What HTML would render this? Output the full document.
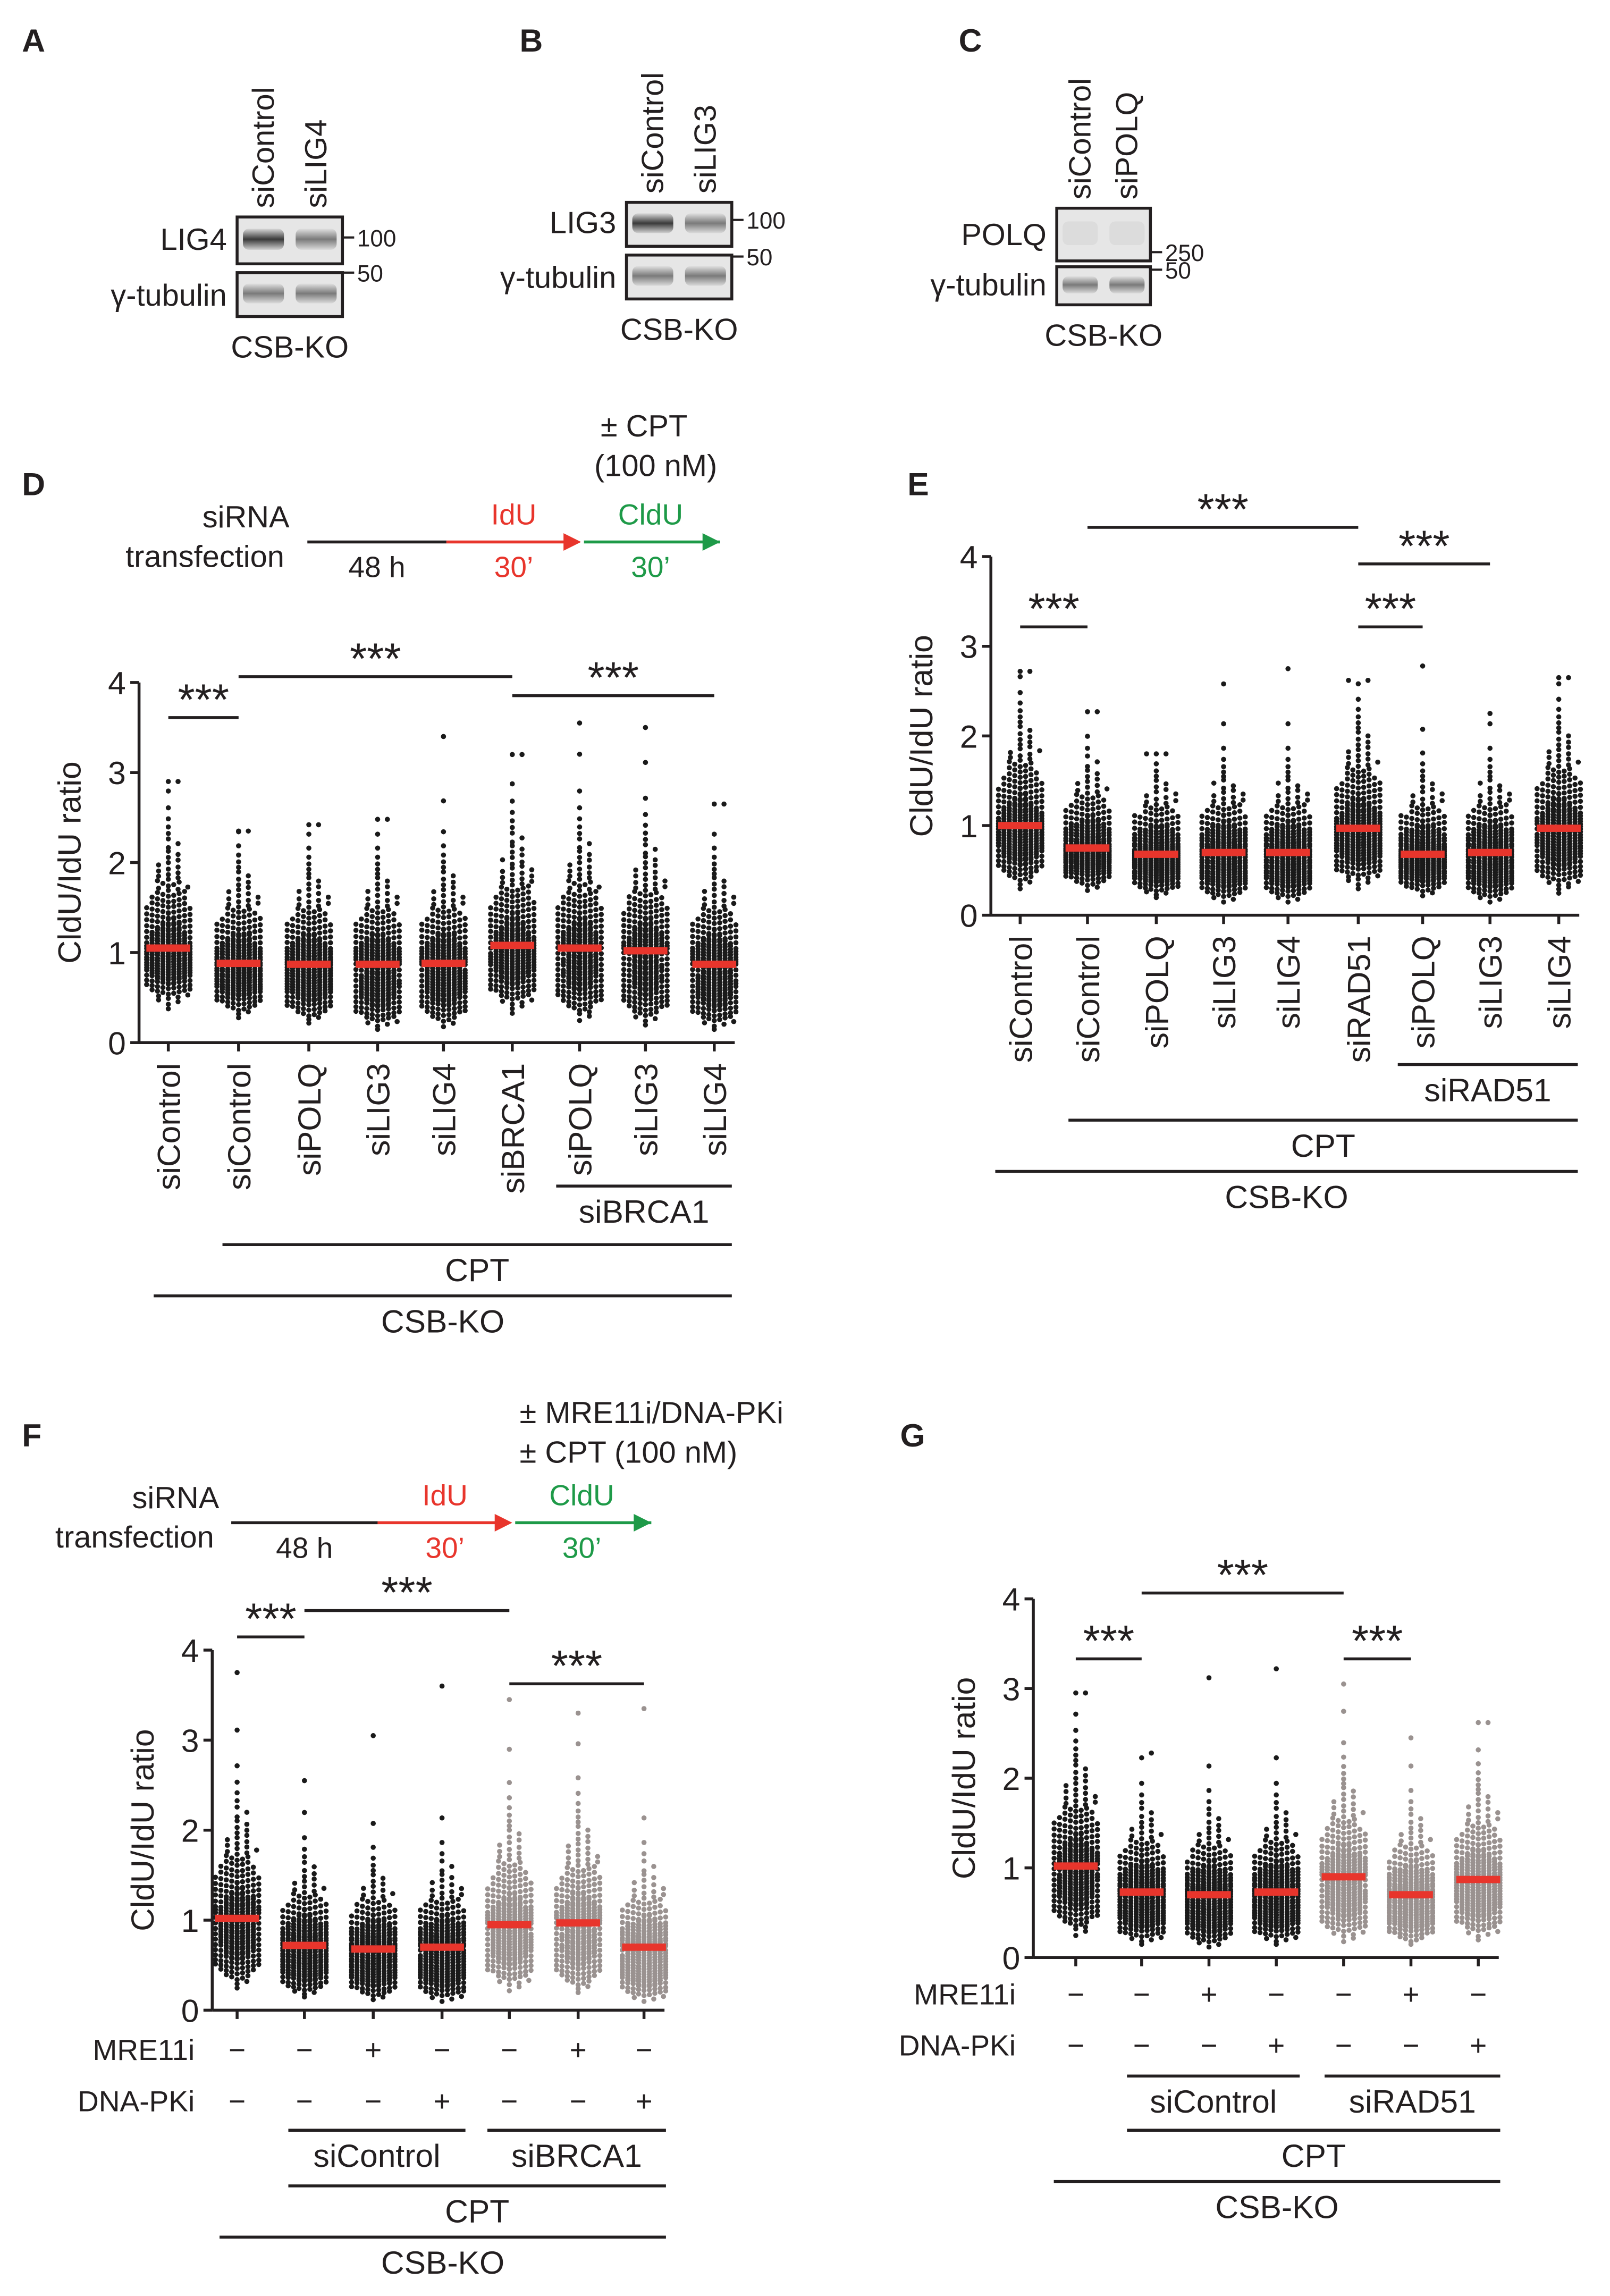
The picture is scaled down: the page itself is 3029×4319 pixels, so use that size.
<!DOCTYPE html>
<html><head><meta charset="utf-8"><style>
html,body{margin:0;padding:0;background:#fff}
svg{display:block}
text{font-family:"Liberation Sans",sans-serif;fill:#231f20}
</style></head><body>
<svg id="fig" width="3029" height="4319" viewBox="0 0 1100 1568" xmlns="http://www.w3.org/2000/svg">
<defs>
<linearGradient id="band" x1="0" y1="0" x2="0" y2="1"><stop offset="0" stop-color="#d8d8d8"/><stop offset="0.5" stop-color="#3a3a3a"/><stop offset="1" stop-color="#d0d0d0"/></linearGradient>
<linearGradient id="bandL" x1="0" y1="0" x2="0" y2="1"><stop offset="0" stop-color="#e0e0e0"/><stop offset="0.5" stop-color="#7a7a7a"/><stop offset="1" stop-color="#dadada"/></linearGradient>
</defs>
<g id="static" font-size="20"></g>
<g id="charts"></g>
</svg>
<script>
// ---------- data ----------
const dGroups=["siControl","siControl","siPOLQ","siLIG3","siLIG4","siBRCA1","siPOLQ","siLIG3","siLIG4"];
const dMedians=[1.05,0.88,0.87,0.87,0.88,1.08,1.05,1.02,0.87];
const dMax=[2.9,2.35,2.42,2.48,3.4,3.2,3.55,3.5,2.65];
const dMin=[0.38,0.28,0.22,0.15,0.18,0.33,0.25,0.2,0.15];
const eGroups=["siControl","siControl","siPOLQ","siLIG3","siLIG4","siRAD51","siPOLQ","siLIG3","siLIG4"];
const eMedians=[1.0,0.75,0.68,0.7,0.7,0.97,0.68,0.7,0.97];
const eMax=[2.72,2.27,1.8,2.58,2.75,2.62,2.78,2.25,2.65];
const eMin=[0.3,0.28,0.2,0.15,0.15,0.3,0.22,0.15,0.25];
const fMedians=[1.02,0.72,0.68,0.7,0.95,0.97,0.7];
const fMax=[3.75,2.55,3.05,3.6,3.45,3.3,3.35];
const fMin=[0.25,0.15,0.12,0.1,0.22,0.2,0.1];
const gMedians=[1.02,0.73,0.7,0.73,0.9,0.7,0.87];
const gMax=[2.95,2.28,3.12,3.22,3.05,2.45,2.62];
const gMin=[0.25,0.15,0.12,0.15,0.18,0.15,0.2];
const fMRE=["−","−","+","−","−","+","−"];
const fDNA=["−","−","−","+","−","−","+"];
const yTicks=[0,1,2,3,4];

const NS="http://www.w3.org/2000/svg";
function el(tag,attrs,parent,txt){const e=document.createElementNS(NS,tag);for(const k in attrs)e.setAttribute(k,attrs[k]);if(txt!==undefined)e.textContent=txt;parent.appendChild(e);return e;}
const S=document.getElementById('static');
const C=document.getElementById('charts');
function T(x,y,s,o={}){const a=Object.assign({x:x,y:y},o);const t=el('text',a,S,s);return t;}
function L(x1,y1,x2,y2,w=2,c="#231f20",p=S){return el('line',{x1:x1,y1:y1,x2:x2,y2:y2,stroke:c,'stroke-width':w},p);}

[["A",15,35],["B",355,35],["C",655,35],["D",15,338],["E",620,338],["F",15,988],["G",615,988]].forEach(a=>{const t=T(a[1],a[2],a[0],{'font-weight':'bold','font-size':22});});

function blot(id,x,w,ytop,h1,h2,gap,lanes,prot,markers,fill){
  const g=el('g',{},S);
  el('rect',{x:x,y:ytop,width:w,height:h1,fill:'#e6e6e6',stroke:'#231f20','stroke-width':2},g);
  el('rect',{x:x,y:ytop+h1+gap,width:w,height:h2,fill:'#e6e6e6',stroke:'#231f20','stroke-width':2},g);
  const lw=w/2;
  fill.forEach((f,i)=>{el('rect',{x:x+4+i*lw,y:ytop+h1*0.25,width:lw-8,height:h1*0.45,fill:f,rx:4},g);
    el('rect',{x:x+4+i*lw,y:ytop+h1+gap+h2*0.25,width:lw-8,height:h2*0.45,fill:'url(#bandL)',rx:4},g);});
  lanes.forEach((l,i)=>{el('text',{x:0,y:0,transform:`translate(${x+lw*i+lw/2+7},${ytop-6}) rotate(-90)`,'font-size':21},g,l);});
  el('text',{x:x-7,y:ytop+h1*0.7,'text-anchor':'end','font-size':21},g,prot);
  el('text',{x:x-7,y:ytop+h1+gap+h2*0.75,'text-anchor':'end','font-size':21},g,'γ-tubulin');
  markers.forEach(m=>{L(x+w,m[1],x+w+8,m[1],1.5,'#231f20',g);el('text',{x:x+w+10,y:m[1]+6,'font-size':16},g,m[0]);});
  el('text',{x:x+w/2,y:ytop+h1+gap+h2+28,'text-anchor':'middle','font-size':21},g,'CSB-KO');
}
blot('blot-a',162,72,148,32,30,6,['siControl','siLIG4'],'LIG4',[['100',162],['50',186]],['url(#band)','url(#bandL)']);
blot('blot-b',428,72,138,30,30,6,['siControl','siLIG3'],'LIG3',[['100',150],['50',175]],['url(#band)','url(#bandL)']);
blot('blot-c',722,64,142,36,26,4,['siControl','siPOLQ'],'POLQ',[['250',172],['50',184]],['#dcdcdc','#dcdcdc']);

function timeline(id,x0,x1,x2,x3,y,siX,siY){
  const g=el('g',{},S);
  el('text',{x:siX,y:siY,'text-anchor':'middle','font-size':21},g,'siRNA');
  el('text',{x:siX-28,y:siY+27,'text-anchor':'middle','font-size':21},g,'transfection');
  L(x0,y,x1,y,2,'#231f20',g);L(x1,y,x2-2,y,2,'#e8352c',g);
  el('polygon',{points:`${x2-12},${y-6} ${x2},${y} ${x2-12},${y+6}`,fill:'#e8352c'},g);
  L(x2+2,y,x3,y,2,'#1e9a48',g);
  el('polygon',{points:`${x3-12},${y-6} ${x3},${y} ${x3-12},${y+6}`,fill:'#1e9a48'},g);
  el('text',{x:(x0+x1)/2,y:y+24,'text-anchor':'middle','font-size':20},g,'48 h');
  el('text',{x:(x1+x2)/2,y:y-12,'text-anchor':'middle','font-size':20,style:'fill:#e8352c'},g,'IdU');
  el('text',{x:(x1+x2)/2,y:y+24,'text-anchor':'middle','font-size':20,style:'fill:#e8352c'},g,'30’');
  el('text',{x:(x2+x3)/2,y:y-12,'text-anchor':'middle','font-size':20,style:'fill:#1e9a48'},g,'CldU');
  el('text',{x:(x2+x3)/2,y:y+24,'text-anchor':'middle','font-size':20,style:'fill:#1e9a48'},g,'30’');
}
timeline('timeline-d',210,305,397,492,370,168,360);
T(440,298,'± CPT',{'text-anchor':'middle','font-size':21});
T(448,325,'(100 nM)',{'text-anchor':'middle','font-size':21});
timeline('timeline-f',158,258,350,445,1040,120,1030);
T(355,972,'± MRE11i/DNA-PKi',{'font-size':21});
T(355,999,'± CPT (100 nM)',{'font-size':21});

function qn(p){const a=[-39.6968,220.9461,-275.9285,138.3578,-30.6648,2.5066],b=[-54.4761,161.5859,-155.6990,66.8013,-13.2807],c=[-0.007785,-0.32240,-2.40076,-2.54973,4.37466,2.93816],d=[0.007785,0.32247,2.44513,3.75440];
if(p<0.02425){const q=Math.sqrt(-2*Math.log(p));return(((((c[0]*q+c[1])*q+c[2])*q+c[3])*q+c[4])*q+c[5])/((((d[0]*q+d[1])*q+d[2])*q+d[3])*q+1);}
if(p>1-0.02425){const q=Math.sqrt(-2*Math.log(1-p));return-(((((c[0]*q+c[1])*q+c[2])*q+c[3])*q+c[4])*q+c[5])/((((d[0]*q+d[1])*q+d[2])*q+d[3])*q+1);}
const q=p-0.5,r=q*q;return(((((a[0]*r+a[1])*r+a[2])*r+a[3])*r+a[4])*r+a[5])*q/(((((b[0]*r+b[1])*r+b[2])*r+b[3])*r+b[4])*r+1);}

function chart(cfg){
  const g=el('g',{},C);
  
  
  const y=v=>cfg.y0-(v/4)*(cfg.y0-cfg.y4);
  const ax=el('g',{},g);
  
  
  L(cfg.ax,cfg.y4,cfg.ax,cfg.y0,2,'#231f20',ax);
  L(cfg.ax,cfg.y0,cfg.xs[cfg.xs.length-1]+14,cfg.y0,2,'#231f20',ax);
  yTicks.forEach(t=>{L(cfg.ax-6,y(t),cfg.ax,y(t),2,'#231f20',ax);el('text',{x:cfg.ax-9,y:y(t)+8,'text-anchor':'end','font-size':22},ax,String(t));});
  cfg.xs.forEach(x=>L(x,cfg.y0,x,cfg.y0+6,2,'#231f20',ax));
  const tt=el('text',{x:0,y:0,transform:`translate(${cfg.ax-40},${(cfg.y0+cfg.y4)/2}) rotate(-90)`,'text-anchor':'middle','font-size':22},g,'CldU/IdU ratio');
  
  
  const n=300,r=1.75,sp=3.7,maxW=15;
  cfg.med.forEach((m,i)=>{
    const gg=el('g',{},g);
    
    
    const col=(cfg.gray&&cfg.gray.includes(i))?'#9a9290':'#1a1a1a';
    const lo=cfg.min[i],hi=cfg.max[i];
    const sLo=Math.log(m/lo)/2.9, sHi=0.38;
    const vals=[];
    for(let k=0;k<n;k++){const z=qn((k+0.5)/n);let v=z<0?m*Math.exp(sLo*z):m*Math.exp(sHi*z);v=Math.min(v,hi);vals.push(v);}
    vals.push(hi);
    const rows={};
    vals.forEach(v=>{const py=y(v);const key=Math.round(py/sp);(rows[key]=rows[key]||[]).push(py);});
    Object.keys(rows).forEach(k=>{const arr=rows[k];
      arr.forEach((py,j)=>{let slot=j%9;let off=(slot%2?1:-1)*Math.ceil(slot/2)*sp;
        if(arr.length<=4&&arr.length>1)off*=1.8;
        off=Math.max(-maxW,Math.min(maxW,off));
        el('circle',{cx:cfg.xs[i]+off,cy:py,r:r,fill:col},gg);});
    });
    const mb=el('rect',{x:cfg.xs[i]-15,y:y(m)-2.5,width:30,height:5,fill:'#e8352c'},g);
    
    
  });
  if(cfg.labels){cfg.labels.forEach((l,i)=>{const t=el('text',{x:0,y:0,transform:`translate(${cfg.xs[i]+8},${cfg.y0+14}) rotate(-90)`,'text-anchor':'end','font-size':22},g,l);});}
  cfg.sig.forEach(s=>{L(cfg.xs[s[0]],s[2],cfg.xs[s[1]],s[2],2,'#231f20',g);el('text',{x:(cfg.xs[s[0]]+cfg.xs[s[1]])/2,y:s[2]-2,'text-anchor':'middle','font-size':30},g,'***');});
  cfg.brackets.forEach(b=>{L(b[0],b[2],b[1],b[2],2,'#231f20',g);el('text',{x:(b[0]+b[1])/2,y:b[2]+25,'text-anchor':'middle','font-size':22},g,b[3]);});
  if(cfg.rows){cfg.rows.forEach(rw=>{el('text',{x:cfg.ax-12,y:rw[1]+7,'text-anchor':'end','font-size':20},g,rw[0]);rw[2].forEach((s,i)=>el('text',{x:cfg.xs[i],y:rw[1]+7,'text-anchor':'middle','font-size':20},g,s));});}
}
chart({name:'chart-d',ax:95,y0:712,y4:466,xs:[115,163,211,258,303,350,396,441,488],med:dMedians,max:dMax,min:dMin,labels:dGroups,
 sig:[[0,1,490],[1,5,462],[5,8,475]],brackets:[[380,500,810,'siBRCA1'],[152,500,850,'CPT'],[105,500,885,'CSB-KO']]});
chart({name:'chart-e',ax:677,y0:625,y4:380,xs:[697,743,790,836,880,928,972,1018,1065],med:eMedians,max:eMax,min:eMin,labels:eGroups,
 sig:[[0,1,428],[1,5,360],[5,7,385],[5,6,428]],brackets:[[955,1078,727,'siRAD51'],[730,1078,765,'CPT'],[680,1078,800,'CSB-KO']]});
chart({name:'chart-f',ax:145,y0:1373,y4:1127,xs:[162,208,255,302,348,395,440],med:fMedians,max:fMax,min:fMin,gray:[4,5,6],
 sig:[[0,1,1118],[1,4,1100],[4,6,1150]],rows:[['MRE11i',1400,fMRE],['DNA-PKi',1435,fDNA]],
 brackets:[[197,318,1455,'siControl'],[333,455,1455,'siBRCA1'],[197,455,1493,'CPT'],[150,455,1528,'CSB-KO']]});
chart({name:'chart-g',ax:706,y0:1337,y4:1092,xs:[735,780,826,872,918,964,1010],med:gMedians,max:gMax,min:gMin,gray:[4,5,6],
 sig:[[0,1,1133],[1,4,1088],[4,5,1133]],rows:[['MRE11i',1362,fMRE],['DNA-PKi',1397,fDNA]],
 brackets:[[770,888,1418,'siControl'],[905,1025,1418,'siRAD51'],[770,1025,1455,'CPT'],[720,1025,1490,'CSB-KO']]});
</script>
</body></html>
